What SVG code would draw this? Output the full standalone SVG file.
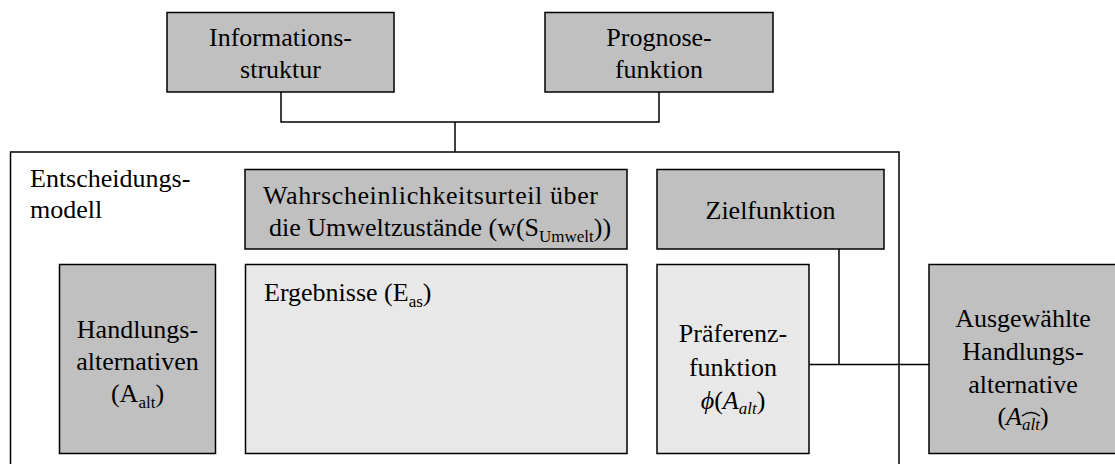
<svg xmlns="http://www.w3.org/2000/svg" width="1115" height="464" viewBox="0 0 1115 464">
  <style>
    .dark { fill: #c0c0c0; stroke: #000; stroke-width: 1.5; }
    .light { fill: #e8e8e8; stroke: #000; stroke-width: 1.5; }
    .frame { fill: #fff; stroke: #000; stroke-width: 1.5; }
    .wire { fill: none; stroke: #000; stroke-width: 1.5; }
    text { font-size: 26px; fill: #000; }
    .c { text-anchor: middle; }
    .sub { font-size: 17px; }
    .m { font-style: italic; }
  </style>
  <rect width="1115" height="464" fill="#fff"/>

  <!-- Enclosing decision model frame -->
  <g id="entscheidungsmodell" font-family="Liberation Serif">
    <rect class="frame" x="10.5" y="152" width="888.5" height="330"/>
    <text x="30" y="187">Entscheidungs-</text>
    <text x="30" y="218">modell</text>
  </g>

  <g id="connectors">
    <path class="wire" d="M281,92 V122 H659 V92"/>
    <path class="wire" d="M455,122 V152"/>
    <path class="wire" d="M809,364.5 H929"/>
    <path class="wire" d="M839,249 V364.5"/>
  </g>

  <g id="informationsstruktur" font-family="Liberation Serif">
    <rect class="dark" x="167" y="12.5" width="227" height="79.5"/>
    <text class="c" x="280.5" y="46">Informations-</text>
    <text class="c" x="280.5" y="78">struktur</text>
  </g>

  <g id="prognosefunktion" font-family="Liberation Serif">
    <rect class="dark" x="545" y="12.5" width="228" height="79.5"/>
    <text class="c" x="659" y="46">Prognose-</text>
    <text class="c" x="659" y="78">funktion</text>
  </g>

  <g id="wahrscheinlichkeitsurteil" font-family="Liberation Serif">
    <rect class="dark" x="245" y="169.5" width="382" height="79.5"/>
    <text x="263" y="204" textLength="335" lengthAdjust="spacing">Wahrscheinlichkeitsurteil über</text>
    <text x="269" y="236">die Umweltzustände (w(S<tspan class="sub" dy="6">Umwelt</tspan><tspan dy="-6">))</tspan></text>
  </g>

  <g id="zielfunktion" font-family="Liberation Serif">
    <rect class="dark" x="657" y="169.5" width="227" height="79.5"/>
    <text class="c" x="770.5" y="219">Zielfunktion</text>
  </g>

  <g id="handlungsalternativen" font-family="Liberation Serif">
    <rect class="dark" x="59.5" y="264.5" width="156" height="189"/>
    <text class="c" x="137.5" y="338">Handlungs-</text>
    <text class="c" x="137.5" y="370">alternativen</text>
    <text class="c" x="137.5" y="402">(A<tspan class="sub" dy="6">alt</tspan><tspan dy="-6">)</tspan></text>
  </g>

  <g id="ergebnisse" font-family="Liberation Serif">
    <rect class="light" x="245.5" y="264.5" width="381.5" height="189"/>
    <text x="264" y="301">Ergebnisse (E<tspan class="sub" dy="6">as</tspan><tspan dy="-6">)</tspan></text>
  </g>

  <g id="praeferenzfunktion" font-family="Liberation Serif">
    <rect class="light" x="657" y="264.5" width="152" height="189"/>
    <text class="c" x="733" y="342">Präferenz-</text>
    <text class="c" x="733" y="376">funktion</text>
    <text class="c" x="733" y="409"><tspan class="m">ϕ</tspan>(<tspan class="m">A</tspan><tspan class="sub m" dy="5">alt</tspan><tspan dy="-5">)</tspan></text>
  </g>

  <g id="ausgewaehlte-handlungsalternative" font-family="Liberation Serif">
    <rect class="dark" x="929" y="264.5" width="190" height="189"/>
    <text class="c" x="1023" y="327">Ausgewählte</text>
    <text class="c" x="1023" y="360">Handlungs-</text>
    <text class="c" x="1023" y="393">alternative</text>
    <text class="c" x="1023" y="425">(<tspan class="m">A</tspan><tspan class="sub m" dy="5">alt</tspan><tspan dy="-5">)</tspan></text>
    <path class="wire" stroke-width="1" d="M1022,416 Q1031,409 1040,416"/>
  </g>
</svg>
